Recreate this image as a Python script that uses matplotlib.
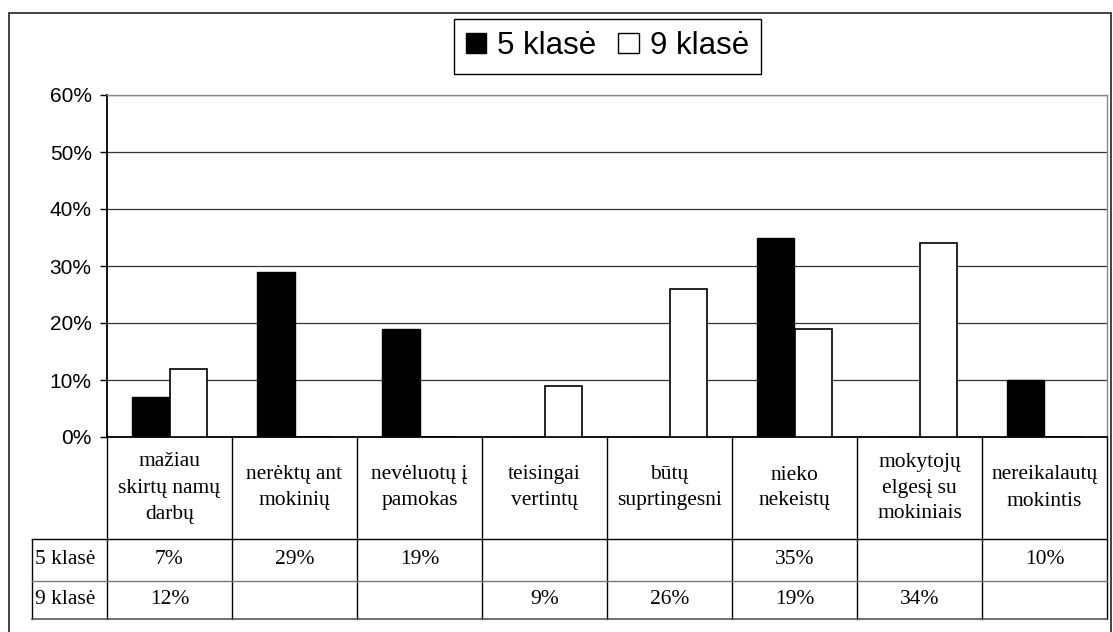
import matplotlib
matplotlib.use("Agg")
import matplotlib.pyplot as plt
from matplotlib.patches import Rectangle, Patch
import numpy as np

# ============================
# Data
# ============================
categories = [
    "mažiau\nskirtų namų\ndarbų",
    "nerėktų ant\nmokinių",
    "nevėluotų į\npamokas",
    "teisingai\nvertintų",
    "būtų\nsuprtingesni",
    "nieko\nnekeistų",
    "mokytojų\nelgesį su\nmokiniais",
    "nereikalautų\nmokintis",
]
series_names = ["5 klasė", "9 klasė"]
values_5 = [7, 29, 19, None, None, 35, None, 10]
values_9 = [12, None, None, 9, 26, 19, 34, None]
yticks = [0, 10, 20, 30, 40, 50, 60]

W, H = 1113, 632
fig = plt.figure(figsize=(W / 100, H / 100), dpi=100)

# plot area in pixels: x 107..1107, y 95..437
px_l, px_r, px_t, px_b = 107, 1107, 95, 437
ax = fig.add_axes([px_l / W, 1 - px_b / H, (px_r - px_l) / W, (px_b - px_t) / H])

x = np.arange(len(categories))
bw = 0.3
v5 = [v if v is not None else 0 for v in values_5]
v9 = [v if v is not None else 0 for v in values_9]
ax.bar(x - bw / 2, v5, bw, color="black", edgecolor="black", linewidth=1, zorder=3)
ax.bar(x + bw / 2, v9, bw, color="white", edgecolor="black", linewidth=1.2, zorder=3)

ax.set_xlim(-0.5, len(categories) - 0.5)
ax.set_ylim(0, 60)
ax.set_yticks(yticks)
ax.set_yticklabels([f"{t}%" for t in yticks], fontfamily="Liberation Sans", fontsize=15)
ax.tick_params(axis="y", direction="out", length=5, width=1, pad=6)
ax.set_xticks([])
ax.yaxis.grid(True, color="#333333", linewidth=0.9, zorder=0)
ax.set_axisbelow(True)

for s in ["top", "right"]:
    ax.spines[s].set_color("#888888")
    ax.spines[s].set_linewidth(1)
ax.spines["left"].set_linewidth(1.3)
ax.spines["bottom"].set_linewidth(1.3)

# ============================
# Data table under the chart
# ============================
def yf(p):
    return (px_b - p) / (px_b - px_t)

tr = ax.get_xaxis_transform()
row_top, row_mid, row_bot = 539, 581, 619
x_left_tbl = -0.5 - (px_l - 32) / ((px_r - px_l) / len(categories))

kw = dict(transform=tr, clip_on=False)
for k in range(len(categories) + 1):
    ax.plot([k - 0.5, k - 0.5], [yf(px_b), yf(row_bot)], color="black", lw=1, **kw)
ax.plot([x_left_tbl, x_left_tbl], [yf(row_top), yf(row_bot)], color="black", lw=1, **kw)
ax.plot([x_left_tbl, len(categories) - 0.5], [yf(row_top)] * 2, color="black", lw=1, **kw)
ax.plot([x_left_tbl, len(categories) - 0.5], [yf(row_mid)] * 2, color="#777777", lw=1, **kw)
ax.plot([x_left_tbl, len(categories) - 0.5], [yf(row_bot)] * 2, color="#555555", lw=1.2, **kw)

serif = "Liberation Serif"
fs = 15.5
for i, lab in enumerate(categories):
    ax.text(i, yf((px_b + row_top) / 2), lab, ha="center", va="center",
            fontfamily=serif, fontsize=fs, linespacing=1.5, **kw)
    if values_5[i] is not None:
        ax.text(i, yf((row_top + row_mid) / 2), f"{values_5[i]}%", ha="center", va="center",
                fontfamily=serif, fontsize=fs, **kw)
    if values_9[i] is not None:
        ax.text(i, yf((row_mid + row_bot) / 2), f"{values_9[i]}%", ha="center", va="center",
                fontfamily=serif, fontsize=fs, **kw)

for lab, (ya, yb) in zip(series_names, [(row_top, row_mid), (row_mid, row_bot)]):
    ax.text(x_left_tbl + 0.025, yf((ya + yb) / 2), lab, ha="left", va="center",
            fontfamily=serif, fontsize=fs, **kw)

# ============================
# Legend
# ============================
handles = [Patch(facecolor="black", edgecolor="black"),
           Patch(facecolor="white", edgecolor="black")]
leg = fig.legend(handles, series_names, loc="center", ncol=2,
                 bbox_to_anchor=(607.5 / W, 1 - 46 / H),
                 prop={"family": "Liberation Sans", "size": 22.5},
                 handlelength=0.65, handleheight=0.65, handletextpad=0.35,
                 columnspacing=0.7, borderpad=0.4, fancybox=False,
                 edgecolor="black", framealpha=1)
leg.get_frame().set_linewidth(1)

# outer frame
fig.add_artist(Rectangle((9 / W, -0.1), (1111 - 9) / W, 1.1 - 13 / H,
                         transform=fig.transFigure, fill=False,
                         edgecolor="#222222", linewidth=1.2))

plt.savefig("out.png", dpi=100)
